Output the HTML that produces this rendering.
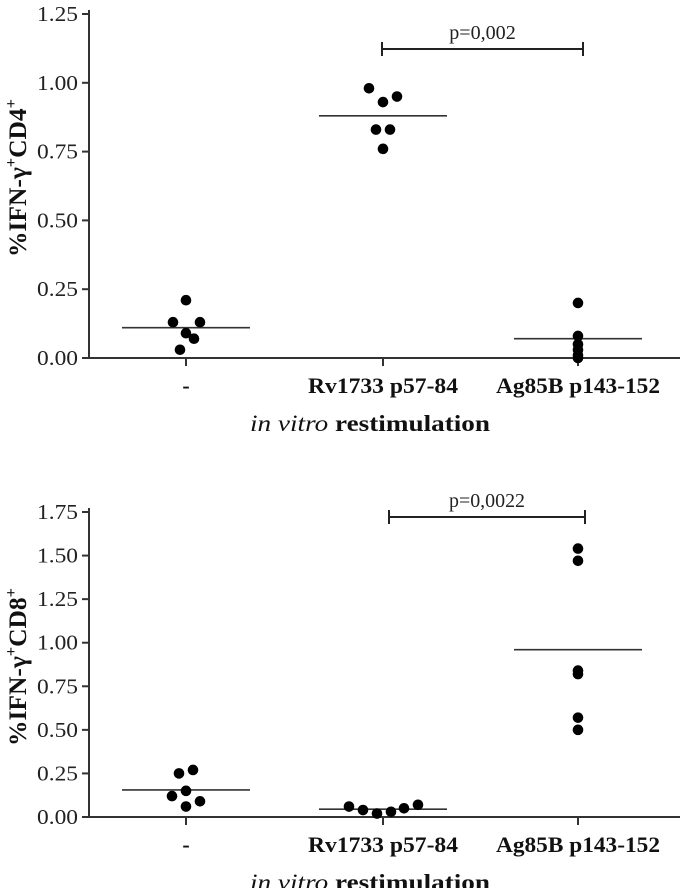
<!DOCTYPE html>
<html><head><meta charset="utf-8"><style>
html,body{margin:0;padding:0;background:#fff;width:680px;height:888px;overflow:hidden}
svg{display:block;font-family:"Liberation Serif",serif}
</style></head><body>
<svg id="chart" width="680" height="888" viewBox="0 0 680 888" xmlns="http://www.w3.org/2000/svg"></svg>
<script>
// ---- data ----
const categories = ["-", "Rv1733 p57-84", "Ag85B p143-152"];
const cd4Values = [
  [0.21, 0.13, 0.13, 0.09, 0.07, 0.03],
  [0.98, 0.95, 0.93, 0.83, 0.83, 0.76],
  [0.20, 0.08, 0.05, 0.03, 0.01, 0.00]
];
const cd4Means = [0.11, 0.88, 0.07];
const cd4Ticks = ["0.00", "0.25", "0.50", "0.75", "1.00", "1.25"];
const cd4PValue = "p=0,002";
const cd8Values = [
  [0.25, 0.27, 0.15, 0.12, 0.09, 0.06],
  [0.06, 0.04, 0.02, 0.03, 0.05, 0.07],
  [1.54, 1.47, 0.84, 0.82, 0.57, 0.50]
];
const cd8Means = [0.155, 0.045, 0.96];
const cd8Ticks = ["0.00", "0.25", "0.50", "0.75", "1.00", "1.25", "1.50", "1.75"];
const cd8PValue = "p=0,0022";

const NS = "http://www.w3.org/2000/svg";
const svg = document.getElementById("chart");
function mk(tag, attrs, parent) {
  const e = document.createElementNS(NS, tag);
  for (const k in attrs) e.setAttribute(k, attrs[k]);
  (parent || svg).appendChild(e);
  return e;
}

const offsetsTop = [[0, -13, 14, 0, 8, -6], [-14, 14, 0, -7, 7, 0], [0, 0, 0, 0, 0, 0]];
const offsetsBot = [[-7, 7, 0, -14, 14, 0], [-34, -20, -6, 8, 21, 35], [0, 0, 0, 0, 0, 0]];

function drawPanel(o) {
  const g = mk("g", {});
  
  
  const y = v => o.y0 - (v / o.vmax) * (o.y0 - o.yTop);
  const catX = [186, 383, 578];
  const ya = mk("line", {x1: 89, y1: o.yTop - 4, x2: 89, y2: o.y0 + 1, stroke: "#333", "stroke-width": 2}, g);
  
  
  const xa = mk("line", {x1: 88, y1: o.y0, x2: 680, y2: o.y0, stroke: "#333", "stroke-width": 2}, g);
  
  
  o.ticks.forEach(t => {
    const ty = y(parseFloat(t));
    const tl = mk("line", {x1: 82, y1: ty, x2: 89, y2: ty, stroke: "#333", "stroke-width": 2}, g);
    
    
    const tx = mk("text", {x: 78, y: ty + 7, "text-anchor": "end", "font-size": 21, textLength: 41, lengthAdjust: "spacingAndGlyphs", fill: "#222"}, g);
    tx.textContent = t;
    
    
  });
  categories.forEach((c, i) => {
    const cx = catX[i];
    const tl = mk("line", {x1: cx, y1: o.y0, x2: cx, y2: o.y0 + 8, stroke: "#333", "stroke-width": 2}, g);
    
    
    const attrs = {x: cx, y: o.y0 + 35, "text-anchor": "middle", "font-size": 22, "font-weight": "bold", fill: "#111"};
    if (c.length > 1) { attrs.textLength = c.length > 13 ? 164 : 150; attrs.lengthAdjust = "spacingAndGlyphs"; }
    const tx = mk("text", attrs, g);
    tx.textContent = c;
    
    
    const ml = mk("line", {x1: cx - 64, y1: y(o.means[i]), x2: cx + 64, y2: y(o.means[i]), stroke: "#333", "stroke-width": 1.6}, g);
    
    
    o.values[i].forEach((v, j) => {
      const d = mk("circle", {cx: cx + o.offsets[i][j], cy: y(v), r: 5.3, fill: "#000"}, g);
      
      
    });
  });
  const xt = mk("text", {x: 370, y: o.y0 + 73, "text-anchor": "middle", "font-size": 23, fill: "#111", textLength: 240, lengthAdjust: "spacingAndGlyphs"}, g);
  
  
  const i1 = mk("tspan", {"font-style": "italic"}, xt); i1.textContent = "in vitro ";
  const i2 = mk("tspan", {"font-weight": "bold"}, xt); i2.textContent = "restimulation";
  const yt = mk("text", {transform: `translate(26 ${o.titleY}) rotate(-90)`, "text-anchor": "middle", "font-size": 25, "font-weight": "bold", fill: "#111", textLength: 158, lengthAdjust: "spacingAndGlyphs"}, g);
  
  
  const parts = [["%IFN-γ", 0], ["+", -10], ["CD" + o.cd, 10], ["+", -10]];
  parts.forEach(p => {
    const ts = mk("tspan", {dy: p[1]}, yt);
    if (p[1] < 0) ts.setAttribute("font-size", 16);
    ts.textContent = p[0];
  });
  const by = o.barY;
  const sb = mk("path", {d: `M${o.barX1} ${by - 7} V${by + 7} M${o.barX1} ${by} H${o.barX2} M${o.barX2} ${by - 7} V${by + 7}`, stroke: "#222", "stroke-width": 2, fill: "none"}, g);
  
  
  const pt = mk("text", {x: (o.barX1 + o.barX2) / 2, y: by - 10, "text-anchor": "middle", "font-size": 20, fill: "#222", textLength: o.p.length * 9.5, lengthAdjust: "spacingAndGlyphs"}, g);
  pt.textContent = o.p;
  
  
}

drawPanel({name: "cd4-panel", y0: 358, yTop: 14, vmax: 1.25, ticks: cd4Ticks, values: cd4Values, means: cd4Means,
  offsets: offsetsTop, cd: "4", titleY: 178, barY: 49, barX1: 382, barX2: 583, p: cd4PValue});
drawPanel({name: "cd8-panel", y0: 817, yTop: 512, vmax: 1.75, ticks: cd8Ticks, values: cd8Values, means: cd8Means,
  offsets: offsetsBot, cd: "8", titleY: 667, barY: 517, barX1: 389, barX2: 585, p: cd8PValue});
</script>
</body></html>
